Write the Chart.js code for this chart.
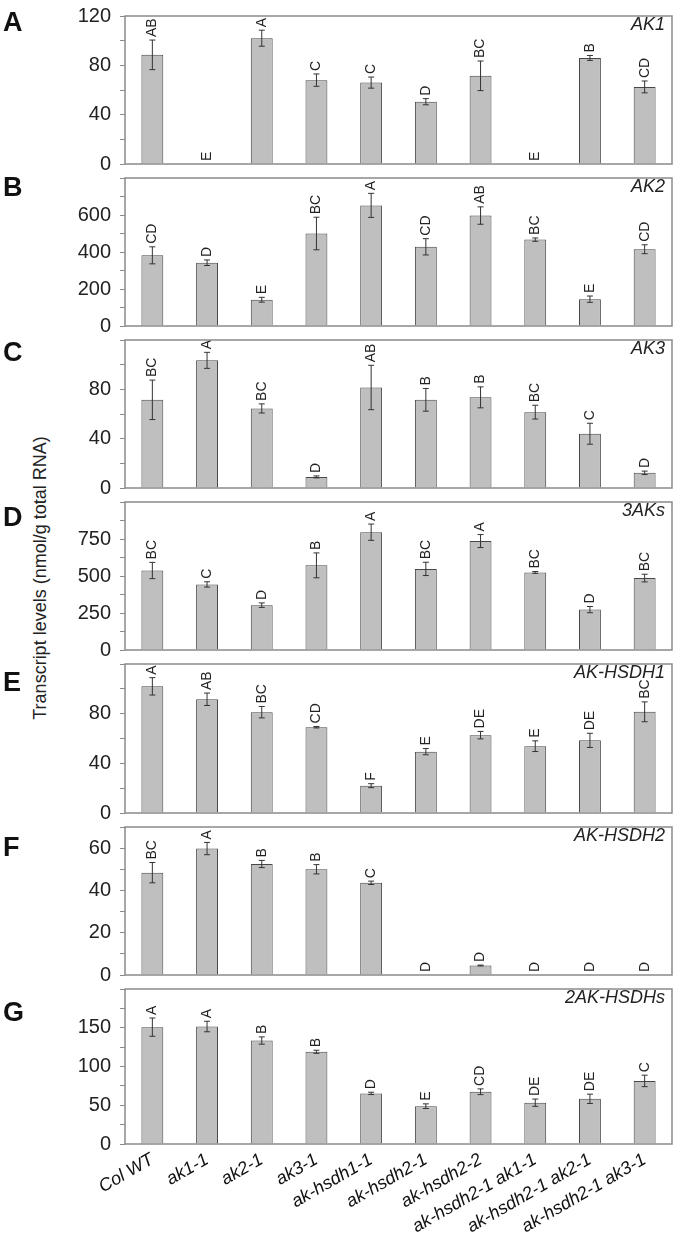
<!DOCTYPE html>
<html>
<head>
<meta charset="utf-8">
<script src="https://cdn.jsdelivr.net/npm/chart.js@4.4.1/dist/chart.umd.min.js"></script>
<style>
  body { margin: 0; background: #fff; }
  #page { position: relative; width: 679px; height: 1236px; overflow: hidden; font-family: "Liberation Sans", Arial, sans-serif; }
  .panel { position: absolute; left: 0; }
  .letter { position: absolute; left: 3px; font-weight: bold; font-size: 27px; line-height: 1; color: #111; }
  .gene { position: absolute; right: 14px; font-style: italic; font-size: 18px; line-height: 1; color: #222; }
  #ytitle { position: absolute; left: 40px; top: 578px; white-space: nowrap; font-size: 18px; color: #222;
            transform: translate(-50%, -50%) rotate(-90deg); }
</style>
</head>
<body>
<div id="page">
  <div id="ytitle">Transcript levels (nmol/g total RNA)</div>
</div>
<script>
const categories = ['Col WT', 'ak1-1', 'ak2-1', 'ak3-1', 'ak-hsdh1-1', 'ak-hsdh2-1', 'ak-hsdh2-2',
                    'ak-hsdh2-1 ak1-1', 'ak-hsdh2-1 ak2-1', 'ak-hsdh2-1 ak3-1'];
const panelCodes = ['A', 'B', 'C', 'D', 'E', 'F', 'G'];
const geneNames = ['AK1', 'AK2', 'AK3', '3AKs', 'AK-HSDH1', 'AK-HSDH2', '2AK-HSDHs'];

// values (mean, error, significance group)
const ak1Values = [88.5, 0, 102, 68, 66, 50.5, 71.5, 0, 86, 62.5];
const ak1Errors = [12, 0, 6.5, 5, 4.5, 2.5, 12, 0, 2, 4.8];
const ak1Groups = ['AB', 'E', 'A', 'C', 'C', 'D', 'BC', 'E', 'B', 'CD'];

const ak2Values = [382, 342, 142, 500, 652, 428, 597, 467, 145, 415];
const ak2Errors = [46, 15, 13, 88, 65, 44, 47, 9, 17, 24];
const ak2Groups = ['CD', 'D', 'E', 'BC', 'A', 'CD', 'AB', 'BC', 'E', 'CD'];

const ak3Values = [71.5, 103.5, 64.5, 9, 81.5, 71.5, 73.5, 61.5, 44, 12.3];
const ak3Errors = [16, 6.5, 3.7, 0.8, 18, 9.2, 8.5, 5.6, 8.5, 1.4];
const ak3Groups = ['BC', 'A', 'BC', 'D', 'AB', 'B', 'B', 'BC', 'C', 'D'];

const threeAkValues = [537, 443, 303, 572, 796, 548, 736, 524, 273, 486];
const threeAkErrors = [55, 18, 15, 84, 55, 45, 44, 6, 21, 26];
const threeAkGroups = ['BC', 'C', 'D', 'B', 'A', 'BC', 'A', 'BC', 'D', 'BC'];

const hsdh1Values = [102, 91.6, 81.2, 69.1, 22, 49.4, 62.7, 53.8, 58.5, 81.5];
const hsdh1Errors = [7, 5, 4.6, 0.6, 1.6, 2.5, 3, 4.3, 5.7, 8];
const hsdh1Groups = ['A', 'AB', 'BC', 'CD', 'F', 'E', 'DE', 'E', 'DE', 'BC'];

const hsdh2Values = [48.4, 59.8, 52.5, 50, 43.6, 0, 4.5, 0, 0, 0];
const hsdh2Errors = [4.8, 2.9, 1.7, 2.2, 0.8, 0, 0.2, 0, 0, 0];
const hsdh2Groups = ['BC', 'A', 'B', 'B', 'C', 'D', 'D', 'D', 'D', 'D'];

const twoHsdhValues = [150.8, 151.6, 133.5, 119, 65.3, 48.8, 67.4, 53.3, 58.3, 81.4];
const twoHsdhErrors = [11.8, 6.8, 4.7, 2, 1.5, 3, 3.7, 4.7, 6, 7.4];
const twoHsdhGroups = ['A', 'A', 'B', 'B', 'D', 'E', 'CD', 'DE', 'DE', 'C'];

// y-axis settings for each panel
const yMaxes = [120, 800, 120, 1000, 120, 70, 200];
const yMajorSteps = [40, 200, 40, 250, 40, 20, 50];
const yMinorSteps = [20, 100, 20, 125, 20, 10, 25];

const allValues = [ak1Values, ak2Values, ak3Values, threeAkValues, hsdh1Values, hsdh2Values, twoHsdhValues];
const allErrors = [ak1Errors, ak2Errors, ak3Errors, threeAkErrors, hsdh1Errors, hsdh2Errors, twoHsdhErrors];
const allGroups = [ak1Groups, ak2Groups, ak3Groups, threeAkGroups, hsdh1Groups, hsdh2Groups, twoHsdhGroups];

const FONT = '"Liberation Sans", Arial, sans-serif';
const page = document.getElementById('page');
const firstTop = 9;      // top of panel A frame
const panelHeight = 162.1;
const pad = 14;          // room above/below each frame for tick labels
const lastBottom = 1236;

// error bars, group letters and the grey frame
function makeDecor(errors, groups) {
    return {
        id: 'decor',
        afterDatasetsDraw(chart) {
            const { ctx, chartArea } = chart;
            const yScale = chart.scales.y;
            const values = chart.data.datasets[0].data;
            ctx.save();
            chart.getDatasetMeta(0).data.forEach((bar, i) => {
                const x = bar.x;
                const top = yScale.getPixelForValue(values[i] + errors[i]);
                const bottom = yScale.getPixelForValue(Math.max(values[i] - errors[i], 0));
                if (errors[i] > 0) {
                    ctx.strokeStyle = '#333';
                    ctx.lineWidth = 1;
                    ctx.beginPath();
                    ctx.moveTo(x, top); ctx.lineTo(x, bottom);
                    ctx.moveTo(x - 3, top); ctx.lineTo(x + 3, top);
                    ctx.moveTo(x - 3, bottom); ctx.lineTo(x + 3, bottom);
                    ctx.stroke();
                }
                // letters sit just above the error bar, rotated
                ctx.save();
                ctx.translate(x, top - 3);
                ctx.rotate(-Math.PI / 2);
                ctx.font = '14px ' + FONT;
                ctx.fillStyle = '#222';
                ctx.textAlign = 'left';
                ctx.textBaseline = 'middle';
                ctx.fillText(groups[i], 0, 0);
                ctx.restore();
            });
            ctx.strokeStyle = '#8a8a8a';
            ctx.lineWidth = 1.5;
            ctx.strokeRect(chartArea.left, chartArea.top, chartArea.right - chartArea.left, chartArea.bottom - chartArea.top);
            ctx.restore();
        }
    };
}

for (let i = 0; i < 7; i++) {
    const frameTop = Math.round(firstTop + i * panelHeight);
    const frameBottom = Math.round(firstTop + (i + 1) * panelHeight);
    const isLast = i === 6;
    const canvasTop = frameTop - pad;
    const canvasHeight = isLast ? lastBottom - canvasTop : frameBottom - frameTop + 2 * pad;

    const holder = document.createElement('div');
    holder.className = 'panel';
    holder.style.top = canvasTop + 'px';
    const canvas = document.createElement('canvas');
    canvas.width = 679;
    canvas.height = canvasHeight;
    canvas.style.width = '679px';
    canvas.style.height = canvasHeight + 'px';
    holder.appendChild(canvas);
    page.appendChild(holder);

    const yMax = yMaxes[i];
    const major = yMajorSteps[i];

    new Chart(canvas.getContext('2d'), {
        type: 'bar',
        data: {
            labels: categories,
            datasets: [{
                data: allValues[i],
                backgroundColor: '#bfbfbf',
                borderColor: '#474747',
                borderWidth: 1,
                barPercentage: 0.4,
                categoryPercentage: 1
            }]
        },
        options: {
            responsive: false,
            animation: false,
            devicePixelRatio: 1,
            layout: { padding: { top: pad, bottom: isLast ? 0 : pad, left: 0, right: 7 } },
            plugins: { legend: { display: false }, tooltip: { enabled: false } },
            scales: {
                x: {
                    display: isLast,
                    afterFit: scale => { scale.height = isLast ? lastBottom - 1144 : 0; },
                    grid: { display: false, drawTicks: false },
                    border: { display: false },
                    ticks: {
                        autoSkip: false,
                        minRotation: 30,
                        maxRotation: 30,
                        padding: 5,
                        color: '#111',
                        font: { family: FONT, size: 18, style: 'italic' }
                    }
                },
                y: {
                    min: 0,
                    max: yMax,
                    afterFit: scale => { scale.width = 125; },
                    border: { display: false },
                    grid: { drawOnChartArea: false, drawTicks: true, tickLength: 5, color: '#8a8a8a' },
                    ticks: {
                        stepSize: yMinorSteps[i],
                        autoSkip: false,
                        padding: 9,
                        color: '#222',
                        font: { family: FONT, size: 20 },
                        callback: v => (v % major === 0 && (v < yMax || i === 0)) ? v : ''
                    }
                }
            }
        },
        plugins: [makeDecor(allErrors[i], allGroups[i])]
    });

    const letter = document.createElement('div');
    letter.className = 'letter';
    letter.textContent = panelCodes[i];
    letter.style.top = (22 + i * 165 - 13) + 'px';
    page.appendChild(letter);

    const gene = document.createElement('div');
    gene.className = 'gene';
    gene.textContent = geneNames[i];
    gene.style.top = (frameTop + 15 - 9) + 'px';
    page.appendChild(gene);
}
</script>
</body>
</html>
